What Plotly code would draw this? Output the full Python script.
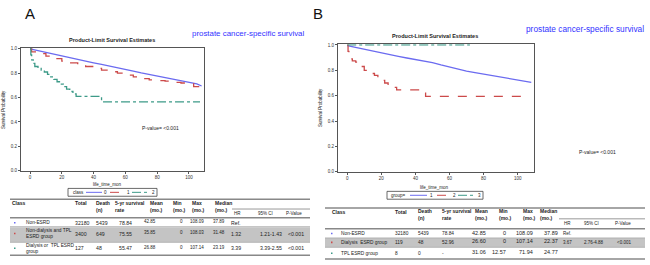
import plotly.graph_objects as go

# ---------------- data ----------------
# Panel A (class 0/1/2)
A0_month = [0, 5, 10, 15, 20, 25, 30, 35, 40, 45, 50, 55, 60, 65, 70, 75, 80, 85, 90, 95, 100, 105, 108]
A0_surv = [1.0, 0.985, 0.97, 0.955, 0.94, 0.925, 0.91, 0.897, 0.885, 0.872, 0.86, 0.847, 0.833, 0.818,
           0.803, 0.79, 0.778, 0.767, 0.755, 0.743, 0.73, 0.712, 0.695]
A1_month = [0, 1, 5, 10, 15, 20, 25, 30, 35, 40, 45, 50, 55, 60, 65, 70, 75, 80, 85, 90, 95, 100, 103, 108]
A1_surv = [1.0, 0.975, 0.96, 0.94, 0.92, 0.9, 0.885, 0.87, 0.855, 0.84, 0.825, 0.812, 0.8, 0.785, 0.77,
           0.755, 0.745, 0.74, 0.735, 0.725, 0.72, 0.715, 0.69, 0.685]
A2_month = [0, 0.5, 1, 2, 3, 5, 7, 9, 11, 13, 15, 17, 19, 21, 23, 25, 27, 29, 45, 107]
A2_surv = [1.0, 0.95, 0.91, 0.88, 0.855, 0.84, 0.825, 0.81, 0.79, 0.77, 0.75, 0.73, 0.71, 0.69, 0.67,
           0.65, 0.63, 0.61, 0.565, 0.565]

# Panel B (group 1/2/3)
B1_month = [0, 5, 10, 15, 20, 25, 30, 35, 40, 45, 50, 55, 60, 65, 70, 75, 80, 85, 90, 95, 100, 105, 108]
B1_surv = [0.995, 0.98, 0.965, 0.95, 0.935, 0.922, 0.91, 0.897, 0.885, 0.872, 0.86, 0.842, 0.825, 0.808,
           0.793, 0.781, 0.77, 0.759, 0.748, 0.738, 0.728, 0.716, 0.705]
B2_month = [0, 0.5, 1, 2, 3, 5, 7, 8, 10, 12, 14, 16, 18, 20, 22, 24, 26, 29, 46, 107]
B2_surv = [1.0, 0.95, 0.915, 0.89, 0.875, 0.865, 0.85, 0.83, 0.80, 0.79, 0.775, 0.76, 0.74, 0.72, 0.70,
           0.68, 0.665, 0.645, 0.595, 0.595]
B3_month = [0, 72]
B3_surv = [1.0, 1.0]

x_ticks = [0, 20, 40, 60, 80, 100]
y_ticks = [0.0, 0.2, 0.4, 0.6, 0.8, 1.0]

# Table A
A_headers = ["Class", "Total", "Death<br>(n)", "5-yr survival<br>rate", "Mean<br>(mo.)", "Min<br>(mo.)",
             "Max<br>(mo.)", "Median<br>(mo.)"]
A_sub_headers = ["HR", "95% CI", "P-Value"]
A_class = ["Non-ESRD", "Non-dialysis and TPL<br>ESRD group", "Dialysis or  TPL ESRD<br>group"]
A_total = ["32180", "3400", "127"]
A_death = ["5439", "649", "48"]
A_5yr = ["78.84", "75.55", "55.47"]
A_mean = ["42.85", "35.85", "26.88"]
A_min = ["0", "0", "0"]
A_max = ["108.09", "108.03", "107.14"]
A_median = ["37.89", "31.48", "23.19"]
A_hr = ["Ref.", "1.32", "3.39"]
A_ci = ["", "1.21-1.43", "3.39-2.55"]
A_p = ["", "<0.001", "<0.001"]

# Table B
B_class = ["Non-ESRD", "Dialysis  ESRD group", "TPL ESRD group"]
B_total = ["32180", "119", "8"]
B_death = ["5439", "48", "0"]
B_5yr = ["78.84", "52.96", "-"]
B_mean = ["42.85", "26.60", "31.06"]
B_min = ["0", "0", "12.57"]
B_max = ["108.09", "107.14", "71.94"]
B_median = ["37.89", "22.37", "24.77"]
B_hr = ["Ref.", "3.67", ""]
B_ci = ["", "2.76-4.88", ""]
B_p = ["", "<0.001", ""]

BLUE = "#6b6bf0"
RED = "#cc4a4a"
GREEN = "#3d9a88"
colors = [BLUE, RED, GREEN]

W, H = 650, 265


def px(x):
    return x / W


def py(y):
    return 1 - y / H


fig = go.Figure()

# ---------------- curves ----------------
fig.add_trace(go.Scatter(x=A0_month, y=A0_surv, mode="lines", line=dict(color=BLUE, width=1.3),
                         xaxis="x", yaxis="y", showlegend=False))
fig.add_trace(go.Scatter(x=A1_month, y=A1_surv, mode="lines", line=dict(color=RED, width=1.3, dash="dash", shape="hv"),
                         xaxis="x", yaxis="y", showlegend=False))
fig.add_trace(go.Scatter(x=A2_month, y=A2_surv, mode="lines", line=dict(color=GREEN, width=1.3, dash="dashdot", shape="hv"),
                         xaxis="x", yaxis="y", showlegend=False))
fig.add_trace(go.Scatter(x=B1_month, y=B1_surv, mode="lines", line=dict(color=BLUE, width=1.3),
                         xaxis="x2", yaxis="y2", showlegend=False))
fig.add_trace(go.Scatter(x=B2_month, y=B2_surv, mode="lines", line=dict(color=RED, width=1.3, dash="dash", shape="hv"),
                         xaxis="x2", yaxis="y2", showlegend=False))
fig.add_trace(go.Scatter(x=B3_month, y=B3_surv, mode="lines", line=dict(color=GREEN, width=1.3, dash="dashdot", shape="hv"),
                         xaxis="x2", yaxis="y2", showlegend=False))

axis_common = dict(showgrid=False, zeroline=False, showline=True, mirror=True, linecolor="#555",
                   linewidth=1, ticks="outside", ticklen=2, tickcolor="#555",
                   tickfont=dict(size=4.5, color="#333", family="Liberation Sans"))

annotations = []
shapes = []


def text(x, y, s, size=5, anchor="left", color="#222", bold=False, angle=0, family="Liberation Sans"):
    if bold:
        s = "<b>" + s.replace("<br>", "</b><br><b>") + "</b>"
    annotations.append(dict(x=px(x), y=py(y), xref="paper", yref="paper", text=s, showarrow=False,
                            xanchor=anchor, yanchor="middle", align=anchor if anchor != "center" else "center",
                            textangle=angle, font=dict(size=size, color=color, family=family)))


def hline(x0, x1, y, color="#777", width=1):
    shapes.append(dict(type="line", xref="paper", yref="paper", x0=px(x0), x1=px(x1), y0=py(y), y1=py(y),
                       line=dict(color=color, width=width)))


# ---------------- panel labels & titles ----------------
text(30, 12, "A", size=15, anchor="center", color="#111")
text(318, 12, "B", size=15, anchor="center", color="#111")
text(190, 32, "prostate cancer-specific survival", size=7.9, anchor="left", color="#3333ff")
text(524, 28, "prostate cancer-specific survival", size=8.3, anchor="left", color="#3333ff")
text(112, 39, "Product-Limit Survival Estimates", size=5.5, anchor="center", bold=True)
text(435, 35, "Product-Limit Survival Estimates", size=5.5, anchor="center", bold=True)
text(4, 110, "Survival Probability", size=4.5, anchor="center", angle=-90)
text(321, 108, "Survival Probability", size=4.5, anchor="center", angle=-90)
text(160, 128, "P-value= <0.001", size=5, anchor="center")
text(597, 153, "P-value= <0.001", size=5, anchor="center")
text(107, 186, "life_time_mon", size=4.5, anchor="center")
text(435, 189, "life_time_mon", size=4.5, anchor="center")

# ---------------- legends ----------------
def legend(x0, x1, yc, label, lx, seg, nums):
    shapes.append(dict(type="rect", xref="paper", yref="paper", x0=px(x0), x1=px(x1), y0=py(yc + 4),
                       y1=py(yc - 4), line=dict(color="#444", width=0.8)))
    text(lx, yc, label, size=4.5)
    for (a, b), (nx, nt), c, d in zip(seg, nums, colors, ["solid", "dash", "dashdot"]):
        shapes.append(dict(type="line", xref="paper", yref="paper", x0=px(a), x1=px(b), y0=py(yc), y1=py(yc),
                           line=dict(color=c, width=1, dash=d)))
        text(nx, yc, nt, size=4.5, anchor="center")


legend(68, 157, 194, "class", 71, [(86, 102), (110, 125), (132, 148)], [(106, "0"), (128, "1"), (153, "2")])
legend(387, 483, 197, "group=", 389, [(410, 427), (437, 452), (458, 475)], [(431, "1"), (455, "2"), (479, "3")])

# ---------------- table A ----------------
shapes.append(dict(type="rect", xref="paper", yref="paper", x0=px(10), x1=px(310), y0=py(244.5), y1=py(229.5),
                   fillcolor="#c4c4c4", line=dict(width=0)))
hline(10, 310, 201, "#888", 1.5)
hline(232, 310, 211, "#999", 1)
hline(10, 310, 220, "#888", 1.5)
hline(10, 310, 229, "#aaa", 0.8)
hline(10, 310, 245, "#aaa", 0.8)
hline(10, 310, 258, "#888", 1.5)
A_hx = [10, 73, 94, 113, 148, 171, 190, 213]
for hx, h in zip(A_hx, A_headers):
    text(hx, 208 if "<br>" in h else 205, h, size=5, bold=True)
for hx, h in zip([232, 256, 284], A_sub_headers):
    text(hx, 216, h, size=4.5)
A_rows_y = [225, 236, 251]
for i, ry in enumerate(A_rows_y):
    shapes.append(dict(type="rect", xref="paper", yref="paper", x0=px(14), x1=px(15.5), y0=py(ry + 0.8),
                       y1=py(ry - 0.8), fillcolor=colors[i], line=dict(width=0)))
    text(24, ry, A_class[i], size=4.8)
    text(73, ry, A_total[i], size=5.2)
    text(94, ry, A_death[i], size=5.2)
    text(117, ry, A_5yr[i], size=5.2)
    text(158, ry - 1, A_mean[i], size=4.5, anchor="right")
    text(185, ry - 1, A_min[i], size=4.5, anchor="right")
    text(188, ry - 1, A_max[i], size=4.5)
    text(227, ry - 1, A_median[i], size=4.5, anchor="right")
    text(229, ry, A_hr[i], size=5.2)
    text(258, ry, A_ci[i], size=5.2)
    text(286, ry, A_p[i], size=5.2)

# ---------------- table B ----------------
shapes.append(dict(type="rect", xref="paper", yref="paper", x0=px(325), x1=px(645), y0=py(250), y1=py(240.5),
                   fillcolor="#c4c4c4", line=dict(width=0)))
hline(325, 645, 210, "#888", 1.5)
hline(559, 645, 221, "#999", 1)
hline(325, 645, 231, "#888", 1.5)
hline(325, 645, 240.5, "#aaa", 0.8)
hline(325, 645, 250, "#aaa", 0.8)
hline(325, 645, 262, "#888", 1.5)
B_hx = [330, 393, 416, 440, 473, 497, 521, 538]
for hx, h in zip(B_hx, A_headers):
    text(hx, 217 if "<br>" in h else 214, h, size=5, bold=True)
for hx, h in zip([562, 582, 613], A_sub_headers):
    text(hx, 226, h, size=4.5)
B_rows_y = [236, 245, 256]
for i, ry in enumerate(B_rows_y):
    shapes.append(dict(type="rect", xref="paper", yref="paper", x0=px(331), x1=px(332.5), y0=py(ry + 0.8),
                       y1=py(ry - 0.8), fillcolor=colors[i], line=dict(width=0)))
    text(339, ry, B_class[i], size=4.8)
    text(393, ry, B_total[i], size=4.8)
    text(416, ry, B_death[i], size=4.8)
    text(440, ry, B_5yr[i], size=4.8)
    text(488, ry - 1, B_mean[i], size=5.5, anchor="right")
    text(508, ry - 1, B_min[i], size=5.5, anchor="right")
    text(535, ry - 1, B_max[i], size=5.5, anchor="right")
    text(560, ry - 1, B_median[i], size=5.5, anchor="right")
    text(561, ry, B_hr[i], size=4.5)
    text(582, ry, B_ci[i], size=4.5)
    text(615, ry, B_p[i], size=4.5)

fig.update_layout(
    width=W, height=H,
    margin=dict(l=0, r=0, t=0, b=0),
    paper_bgcolor="white", plot_bgcolor="white",
    xaxis=dict(domain=[px(21), px(204)], range=[-5.7, 109.5], tickvals=x_ticks, anchor="y", **axis_common),
    yaxis=dict(domain=[py(172), py(47)], range=[0, 1.006], tickvals=y_ticks, tickformat=".1f", anchor="x",
               **axis_common),
    xaxis2=dict(domain=[px(338), px(534)], range=[-5.4, 109.6], tickvals=x_ticks, anchor="y2", **axis_common),
    yaxis2=dict(domain=[py(173), py(43)], range=[0, 1.006], tickvals=y_ticks, tickformat=".1f", anchor="x2",
                **axis_common),
    annotations=annotations,
    shapes=shapes,
    font=dict(family="Liberation Sans"),
)

fig.write_html("out.html", config={"displayModeBar": False},
               post_script="document.body.style.margin='0';document.body.style.overflow='hidden';")
